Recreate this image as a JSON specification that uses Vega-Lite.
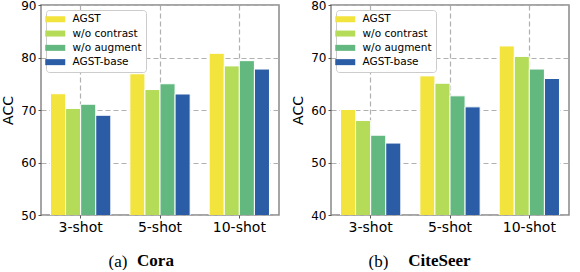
{
  "$schema": "https://vega.github.io/schema/vega-lite/v6.json",
  "padding": {"left": 0, "top": -2, "right": 0, "bottom": 0},
  "data": {"name": "acc"},
  "datasets": {
    "acc": [
      {"dataset": "Cora", "shot": "3-shot", "method": "AGST", "acc": 73.1},
      {"dataset": "Cora", "shot": "3-shot", "method": "w/o contrast", "acc": 70.3},
      {"dataset": "Cora", "shot": "3-shot", "method": "w/o augment", "acc": 71.1},
      {"dataset": "Cora", "shot": "3-shot", "method": "AGST-base", "acc": 69.0},
      {"dataset": "Cora", "shot": "5-shot", "method": "AGST", "acc": 76.9},
      {"dataset": "Cora", "shot": "5-shot", "method": "w/o contrast", "acc": 73.9},
      {"dataset": "Cora", "shot": "5-shot", "method": "w/o augment", "acc": 75.0},
      {"dataset": "Cora", "shot": "5-shot", "method": "AGST-base", "acc": 73.05},
      {"dataset": "Cora", "shot": "10-shot", "method": "AGST", "acc": 80.8},
      {"dataset": "Cora", "shot": "10-shot", "method": "w/o contrast", "acc": 78.4},
      {"dataset": "Cora", "shot": "10-shot", "method": "w/o augment", "acc": 79.4},
      {"dataset": "Cora", "shot": "10-shot", "method": "AGST-base", "acc": 77.8},
      {"dataset": "CiteSeer", "shot": "3-shot", "method": "AGST", "acc": 60.1},
      {"dataset": "CiteSeer", "shot": "3-shot", "method": "w/o contrast", "acc": 58.0},
      {"dataset": "CiteSeer", "shot": "3-shot", "method": "w/o augment", "acc": 55.2},
      {"dataset": "CiteSeer", "shot": "3-shot", "method": "AGST-base", "acc": 53.7},
      {"dataset": "CiteSeer", "shot": "5-shot", "method": "AGST", "acc": 66.5},
      {"dataset": "CiteSeer", "shot": "5-shot", "method": "w/o contrast", "acc": 65.1},
      {"dataset": "CiteSeer", "shot": "5-shot", "method": "w/o augment", "acc": 62.7},
      {"dataset": "CiteSeer", "shot": "5-shot", "method": "AGST-base", "acc": 60.6},
      {"dataset": "CiteSeer", "shot": "10-shot", "method": "AGST", "acc": 72.2},
      {"dataset": "CiteSeer", "shot": "10-shot", "method": "w/o contrast", "acc": 70.2},
      {"dataset": "CiteSeer", "shot": "10-shot", "method": "w/o augment", "acc": 67.8},
      {"dataset": "CiteSeer", "shot": "10-shot", "method": "AGST-base", "acc": 66.0}
    ]
  },
  "config": {
    "font": "DejaVu Sans",
    "bounds": "flush",
    "view": {"stroke": "#888888", "strokeWidth": 1.5},
    "concat": {"spacing": 10},
    "axis": {
      "labelFont": "DejaVu Sans",
      "labelFontSize": 12,
      "labelColor": "#000000",
      "titleFont": "DejaVu Sans",
      "titleFontSize": 14,
      "titleFontWeight": "normal",
      "titleColor": "#000000",
      "domain": false,
      "tickColor": "#555555",
      "tickSize": 3,
      "labelPadding": 2,
      "gridColor": "#b0b0b0",
      "gridDash": [5, 3],
      "gridWidth": 1.2
    },
    "legend": {
      "orient": "top-left",
      "offset": 5,
      "title": null,
      "labelFont": "DejaVu Sans",
      "labelFontSize": 10.5,
      "labelColor": "#000000",
      "symbolType": "M-2,-0.6h4v1.2h-4z",
      "symbolSize": 100,
      "symbolStrokeWidth": 0,
      "symbolOpacity": 1,
      "rowPadding": 3.3,
      "labelOffset": 12,
      "padding": 4,
      "strokeColor": "#cccccc",
      "fillColor": "#ffffff",
      "cornerRadius": 3
    },
    "title": {
      "orient": "bottom",
      "font": "Liberation Serif",
      "fontSize": 17,
      "fontWeight": "bold",
      "baseline": "alphabetic",
      "color": "#000000"
    }
  },
  "hconcat": [
    {
      "width": 238,
      "height": 210,
      "title": {"text": "Cora", "dx": -4.5, "offset": -16},
      "transform": [{"filter": "datum.dataset === 'Cora'"}],
      "mark": {"type": "bar", "stroke": "#ffffff", "strokeWidth": 1, "clip": true},
      "encoding": {
        "x": {
          "field": "shot", "type": "nominal", "sort": ["3-shot", "5-shot", "10-shot"],
          "scale": {"paddingInner": 0.24, "paddingOuter": 0.12},
          "axis": {"labelAngle": 0, "labelFontSize": 14, "grid": true, "title": "(a)", "titleFont": "Liberation Serif", "titleFontSize": 17, "titleX": 76.5, "titleY": 51, "titleBaseline": "alphabetic"}
        },
        "xOffset": {"field": "method", "type": "nominal", "sort": ["AGST", "w/o contrast", "w/o augment", "AGST-base"]},
        "y": {
          "field": "acc", "type": "quantitative",
          "scale": {"domain": [50, 90], "nice": false, "zero": false},
          "axis": {"values": [50, 60, 70, 80, 90], "title": "ACC", "titlePadding": 5}
        },
        "color": {
          "field": "method", "type": "nominal",
          "sort": ["AGST", "w/o contrast", "w/o augment", "AGST-base"],
          "scale": {"domain": ["AGST", "w/o contrast", "w/o augment", "AGST-base"], "range": ["#f2e33d", "#b4dc59", "#62b87f", "#2b5ca6"]}
        }
      }
    },
    {
      "width": 238,
      "height": 210,
      "title": {"text": "CiteSeer", "dx": -10.5, "offset": -16},
      "transform": [{"filter": "datum.dataset === 'CiteSeer'"}],
      "mark": {"type": "bar", "stroke": "#ffffff", "strokeWidth": 1, "clip": true},
      "encoding": {
        "x": {
          "field": "shot", "type": "nominal", "sort": ["3-shot", "5-shot", "10-shot"],
          "scale": {"paddingInner": 0.24, "paddingOuter": 0.12},
          "axis": {"labelAngle": 0, "labelFontSize": 14, "grid": true, "title": "(b)", "titleFont": "Liberation Serif", "titleFontSize": 17, "titleX": 47, "titleY": 51, "titleBaseline": "alphabetic"}
        },
        "xOffset": {"field": "method", "type": "nominal", "sort": ["AGST", "w/o contrast", "w/o augment", "AGST-base"]},
        "y": {
          "field": "acc", "type": "quantitative",
          "scale": {"domain": [40, 80], "nice": false, "zero": false},
          "axis": {"values": [40, 50, 60, 70, 80], "title": "ACC", "titlePadding": 5}
        },
        "color": {
          "field": "method", "type": "nominal",
          "sort": ["AGST", "w/o contrast", "w/o augment", "AGST-base"],
          "scale": {"domain": ["AGST", "w/o contrast", "w/o augment", "AGST-base"], "range": ["#f2e33d", "#b4dc59", "#62b87f", "#2b5ca6"]}
        }
      }
    }
  ],
  "resolve": {"scale": {"color": "independent"}, "legend": {"color": "independent"}}
}
